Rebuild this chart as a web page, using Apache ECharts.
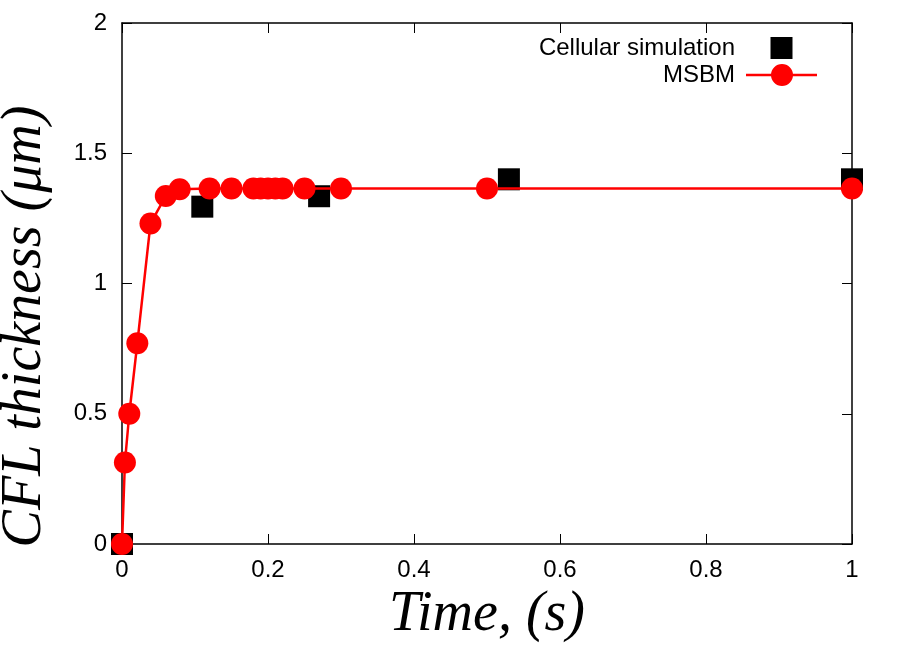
<!DOCTYPE html>
<html>
<head>
<meta charset="utf-8">
<script src="https://cdn.jsdelivr.net/npm/echarts@6/dist/echarts.min.js"></script>
<style>
  html, body { margin: 0; padding: 0; background: #fff; }
  #chart { width: 897px; height: 669px; }
</style>
</head>
<body>
<div id="chart"></div>
<script>
// values
var cellTime = [0, 0.11, 0.27, 0.53, 1.0];
var cellThick = [0, 1.295, 1.335, 1.40, 1.40];

var msbmTime = [0, 0.004, 0.01, 0.021, 0.039, 0.06, 0.079, 0.12, 0.15, 0.18, 0.19, 0.2, 0.21, 0.22, 0.25, 0.3, 0.5, 1.0];
var msbmThick = [0, 0.313, 0.5, 0.771, 1.23, 1.336, 1.362, 1.365, 1.365, 1.365, 1.365, 1.365, 1.365, 1.365, 1.365, 1.365, 1.365, 1.365];

var xTicks = [0, 0.2, 0.4, 0.6, 0.8, 1];
var yTicks = [0, 0.5, 1, 1.5, 2];

function pairs(xs, ys) {
  return xs.map(function (x, i) { return [x, ys[i]]; });
}

var labelFont = { fontFamily: 'Liberation Sans', fontSize: 24, color: '#000' };
var titleFont = { fontFamily: 'Liberation Serif', fontStyle: 'italic', fontSize: 56, color: '#000' };
var axisLine = { show: true, onZero: false, lineStyle: { color: '#000', width: 1.5 } };
var tick = { show: true, inside: true, length: 10, lineStyle: { color: '#000', width: 1 } };

var chart = echarts.init(document.getElementById('chart'));
chart.setOption({
  animation: false,
  backgroundColor: '#fff',
  grid: { left: 122, right: 45, top: 23, bottom: 125, outerBoundsMode: 'none' },
  legend: {
    orient: 'vertical',
    right: 75,
    top: 31,
    align: 'right',
    itemWidth: 71,
    itemHeight: 22,
    itemGap: 3,
    selectedMode: false,
    symbolKeepAspect: true,
    textStyle: { fontFamily: 'Liberation Sans', fontSize: 24, color: '#000', padding: [0, 6, 0, 0] },
    itemStyle: { borderWidth: 0, opacity: 1 },
    data: [
      { name: 'Cellular simulation', icon: 'path://M0,0h22v22h-22z' },
      // line through a filled dot, both drawn clockwise so nothing cancels
      { name: 'MSBM', icon: 'path://M0,9.75h71v2.5h-71z M25,11a11,11 0 1,1 22,0a11,11 0 1,1 -22,0z' }
    ]
  },
  xAxis: [{
    type: 'value',
    min: xTicks[0], max: xTicks[xTicks.length - 1], interval: 0.2,
    name: 'Time, (s)',
    nameLocation: 'middle',
    nameGap: 34,
    nameTextStyle: titleFont,
    axisLine: axisLine,
    axisTick: tick,
    splitLine: { show: false },
    axisLabel: Object.assign({ margin: 14 }, labelFont)
  }, {
    type: 'value', position: 'top',
    min: xTicks[0], max: xTicks[xTicks.length - 1], interval: 0.2,
    axisLine: axisLine, axisTick: tick,
    splitLine: { show: false }, axisLabel: { show: false }
  }],
  yAxis: [{
    type: 'value',
    min: yTicks[0], max: yTicks[yTicks.length - 1], interval: 0.5,
    name: 'CFL thickness (\u03bcm)',
    nameLocation: 'middle',
    nameRotate: 90,
    nameGap: 69,
    nameTextStyle: Object.assign({ padding: [0, 86, 0, 0] }, titleFont),
    axisLine: axisLine,
    axisTick: tick,
    splitLine: { show: false },
    axisLabel: Object.assign({ margin: 15 }, labelFont)
  }, {
    type: 'value', position: 'right',
    min: yTicks[0], max: yTicks[yTicks.length - 1], interval: 0.5,
    axisLine: axisLine, axisTick: tick,
    splitLine: { show: false }, axisLabel: { show: false }
  }],
  series: [{
    name: 'Cellular simulation',
    type: 'scatter',
    symbol: 'rect',
    symbolSize: 22,
    itemStyle: { color: '#000', opacity: 1 },
    data: pairs(cellTime, cellThick)
  }, {
    name: 'MSBM',
    type: 'line',
    symbol: 'circle',
    symbolSize: 22,
    showAllSymbol: true,
    lineStyle: { color: '#ff0000', width: 2.5 },
    itemStyle: { color: '#ff0000', borderWidth: 0 },
    data: pairs(msbmTime, msbmThick)
  }]
});
</script>
</body>
</html>
